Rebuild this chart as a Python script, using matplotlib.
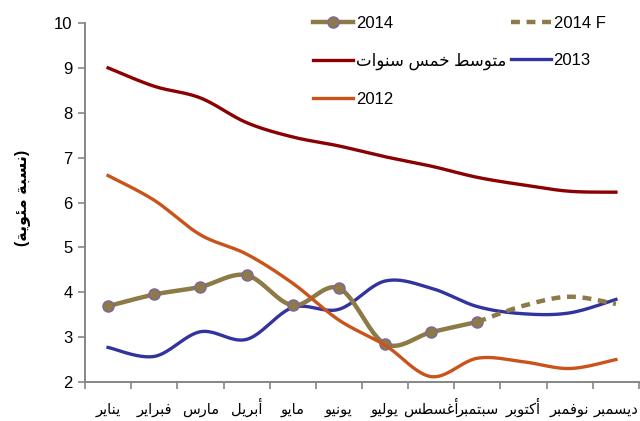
import numpy as np
import matplotlib
matplotlib.use("Agg")
import matplotlib.pyplot as plt
from matplotlib.lines import Line2D

plt.rcParams['font.family'] = ['Liberation Sans', 'DejaVu Sans']

# data
months = ['يناير', 'فبراير', 'مارس', 'أبريل', 'مايو', 'يونيو',
          'يوليو', 'أغسطس', 'سبتمبر', 'أكتوبر', 'نوفمبر', 'ديسمبر']
avg5 = [9.0, 8.59, 8.33, 7.78, 7.46, 7.26, 7.02, 6.81, 6.56, 6.39, 6.25, 6.23]
y2012 = [6.6, 6.05, 5.28, 4.85, 4.2, 3.38, 2.82, 2.12, 2.53, 2.45, 2.30, 2.50]
y2013 = [2.77, 2.57, 3.12, 2.95, 3.66, 3.62, 4.25, 4.09, 3.68, 3.52, 3.54, 3.84]
y2014 = [3.69, 3.95, 4.12, 4.38, 3.71, 4.09, 2.85, 3.11, 3.34]
y2014f = [3.34, 3.70, 3.90, 3.74]   # sep .. dec

avg_label = 'متوسط خمس سنوات'
ylabel_text = 'نسبة مئوية'


# minimal arabic shaping (presentation forms) + visual order
_letters = 'ءآأؤإئابةتثجحخدذرزسشصضطظعغفقكلمنهوىي'
_counts = [1, 2, 2, 2, 2, 4, 2, 4, 2, 4, 4, 4, 4, 4, 2, 2, 2, 2,
           4, 4, 4, 4, 4, 4, 4, 4, 4, 4, 4, 4, 4, 4, 4, 2, 2, 4]
_forms = {}
_code = 0xFE80
for ch, n in zip(_letters, _counts):
    _forms[ch] = [chr(_code + k) for k in range(n)]
    _code += n


def shape(text):
    out = []
    for i, ch in enumerate(text):
        if ch not in _forms:
            out.append(ch)
            continue
        prev = text[i - 1] if i > 0 else ''
        nxt = text[i + 1] if i + 1 < len(text) else ''
        jp = prev in _forms and len(_forms[prev]) == 4
        jn = nxt in _forms and nxt != 'ء'
        f = _forms[ch]
        if len(f) == 4:
            out.append(f[int(jp) + 2 * int(jn)])
        elif len(f) == 2:
            out.append(f[int(jp)])
        else:
            out.append(f[0])
    return ''.join(out)[::-1]


# excel-like smoothed line (catmull-rom bezier)
def smooth(xs, ys, n=24):
    p = np.column_stack([xs, ys]).astype(float)
    pts = [p[0]]
    for i in range(len(p) - 1):
        p0 = p[i - 1] if i > 0 else p[i]
        p3 = p[i + 2] if i + 2 < len(p) else p[i + 1]
        c1 = p[i] + (p[i + 1] - p0) / 6
        c2 = p[i + 1] - (p3 - p[i]) / 6
        t = np.linspace(0, 1, n)[1:, None]
        seg = ((1 - t) ** 3 * p[i] + 3 * (1 - t) ** 2 * t * c1
               + 3 * (1 - t) * t ** 2 * c2 + t ** 3 * p[i + 1])
        pts.extend(seg)
    pts = np.array(pts)
    return pts[:, 0], pts[:, 1]


c_avg = '#8B0000'
c_2012 = '#C9531A'
c_2013 = '#3333A0'
c_2014 = '#8C7A47'
c_mark = '#8064A2'

fig = plt.figure(figsize=(6.4, 4.21), dpi=100)
ax = fig.add_axes([85 / 640, 1 - 382 / 421, 554 / 640, 359 / 421])

x = np.arange(12)
l_avg, = ax.plot(*smooth(x, avg5), color=c_avg, lw=2.4, label=shape(avg_label))
l_2013, = ax.plot(*smooth(x, y2013), color=c_2013, lw=2.4, label='2013')
ax.plot(*smooth(x[:9], y2014), color=c_2014, lw=3.2, solid_capstyle='round')
ax.plot(x[:9], y2014, 'o', ms=8, mfc=c_2014, mec=c_mark, mew=1)
l_f, = ax.plot(*smooth(x[8:], y2014f), color=c_2014, lw=3.2, ls=(0, (2, 1.5)), label='2014 F')
l_2012, = ax.plot(*smooth(x, y2012), color=c_2012, lw=2.4, label='2012')
l_2014 = Line2D([], [], color=c_2014, lw=3.2, marker='o', ms=8, mfc=c_2014, mec=c_mark, label='2014')

ax.set_xlim(-0.5, 11.5)
ax.set_ylim(2, 10)
ax.set_yticks(range(2, 11))
ax.set_xticks(x)
ax.set_xticklabels([shape(m) for m in months], fontsize=10.5)
for lab in ax.get_xticklabels():
    lab.set_va('baseline')
ax.set_xticks(np.arange(-0.5, 12), minor=True)
ax.tick_params(axis='x', which='major', length=0, pad=23)
ax.tick_params(axis='x', which='minor', length=5, color='#868686', width=1.2)
ax.tick_params(axis='y', length=5, color='#868686', width=1.2, labelsize=12, pad=4)
for s in ['top', 'right']:
    ax.spines[s].set_visible(False)
for s in ['left', 'bottom']:
    ax.spines[s].set_color('#868686')
    ax.spines[s].set_linewidth(1.4)

fig.text(22 / 640, 1 - 198 / 421, '(' + shape(ylabel_text) + ')', rotation=90,
         ha='center', va='center', fontsize=11.5, fontweight='bold')

ax.legend(handles=[l_2014, l_avg, l_2012, l_f, l_2013], ncol=2, frameon=False,
          loc='upper left', bbox_to_anchor=(305 / 640, 1 - 8 / 421),
          bbox_transform=fig.transFigure, fontsize=12, handlelength=2.4,
          handletextpad=0.15, labelspacing=1.3, columnspacing=0.3, borderpad=0)

fig.savefig('out.png', dpi=100)
